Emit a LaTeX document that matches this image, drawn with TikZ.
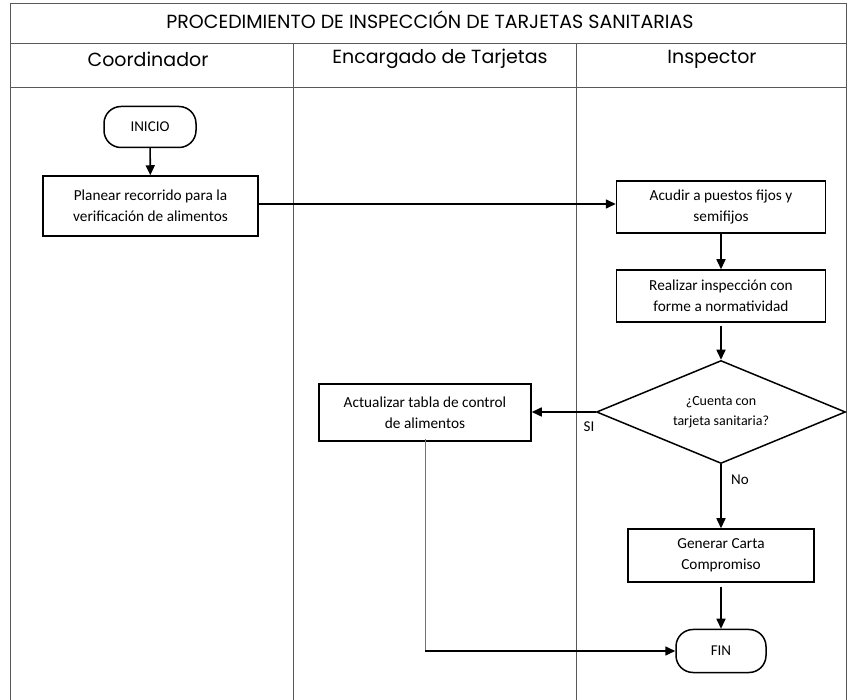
\documentclass[tikz,border=0pt]{standalone}
\usepackage{fontspec}
\setmainfont{Carlito}
\newfontfamily\hdrfont{Poppins}
\usetikzlibrary{shapes.geometric,arrows.meta}
\tikzset{
  frameline/.style={draw=black!65, line width=0.9pt},
  hdr/.style={font=\hdrfont\fontsize{19}{22}\selectfont, inner sep=0pt},
  procbox/.style={draw=black, line width=1.5pt, inner sep=0pt, align=center,
    font=\fontsize{15.3}{21}\selectfont},
  termbox/.style={draw=black, line width=1.5pt, rounded corners=17pt, inner sep=0pt,
    font=\fontsize{15}{18}\selectfont},
  decbox/.style={diamond, draw=black, line width=1.5pt, inner sep=0pt, aspect=2.4,
    align=center, font=\fontsize{14}{20}\selectfont},
  flow/.style={draw=black, line width=1.6pt, -{Triangle[length=10pt,width=9pt]}},
  lbl/.style={font=\fontsize{15}{17}\selectfont, inner sep=0pt},
}
\begin{document}
\begin{tikzpicture}[x=1pt,y=-1pt]
\useasboundingbox (0,0) rectangle (847,700);
% pool frame
\coordinate (tl) at (10,3);
\coordinate (tr) at (846,3);
\coordinate (bl) at (10,700);
\coordinate (br) at (846,700);
\draw[frameline] (bl) -- (tl) -- (tr) -- (br);
\draw[frameline] (10,43) -- (846,43);
\draw[frameline] (10,87) -- (846,87);
\draw[frameline] (293,43) -- (293,700);
\draw[frameline] (576,43) -- (576,700);
% headers
\node[hdr] (title) at (430,20) {PROCEDIMIENTO DE INSPECCIÓN DE TARJETAS SANITARIAS};
\node[hdr] (h1) at (148,59) {Coordinador};
\node[hdr] (h2) at (440,59) {Encargado de Tarjetas};
\node[hdr] (h3) at (712,59) {Inspector};
% nodes
\node[termbox, minimum width=92pt, minimum height=41pt] (inicio) at (150,127) {INICIO};
\node[procbox, minimum width=215pt, minimum height=60pt] (planear) at (150.5,206)
  {Planear recorrido para la\\verificación de alimentos};
\node[procbox, minimum width=209pt, minimum height=52pt] (acudir) at (721,207)
  {Acudir a puestos fijos y\\semifijos};
\node[procbox, minimum width=209pt, minimum height=52pt] (realizar) at (721,296)
  {Realizar inspección con\\forme a normatividad};
\node[decbox, minimum width=249pt, minimum height=103pt] (dec) at (721,412)
  {¿Cuenta con\\tarjeta sanitaria?};
\node[procbox, minimum width=212pt, minimum height=57pt] (actualizar) at (425,412.5)
  {Actualizar tabla de control\\de alimentos};
\node[procbox, minimum width=186pt, minimum height=53pt] (generar) at (721,555.5)
  {Generar Carta\\Compromiso};
\node[termbox, minimum width=90pt, minimum height=43pt] (fin) at (721,651) {FIN};
% connectors
\draw[flow] (inicio) -- (planear);
\draw[flow] (planear.east |- 0,204) -- (acudir.west |- 0,204);
\draw[flow] (acudir) -- (realizar);
\draw[flow] (realizar.south) ++(0,3) -- (dec.north);
\draw[flow] (dec.west) -- (actualizar.east |- dec.west);
\draw[flow] (dec.south) -- (generar.north);
\draw[flow] (generar.south) ++(0,4) -- (fin.north);
\coordinate (corner) at (actualizar.south |- fin.west);
\draw[draw=black!55, line width=1pt] ([yshift=3pt]actualizar.south) -- (corner);
\draw[flow] (corner) -- (fin.west);
% labels
\node[lbl] (si) at (589,427) {SI};
\node[lbl] (no) at (740,480) {No};
\end{tikzpicture}
\end{document}
